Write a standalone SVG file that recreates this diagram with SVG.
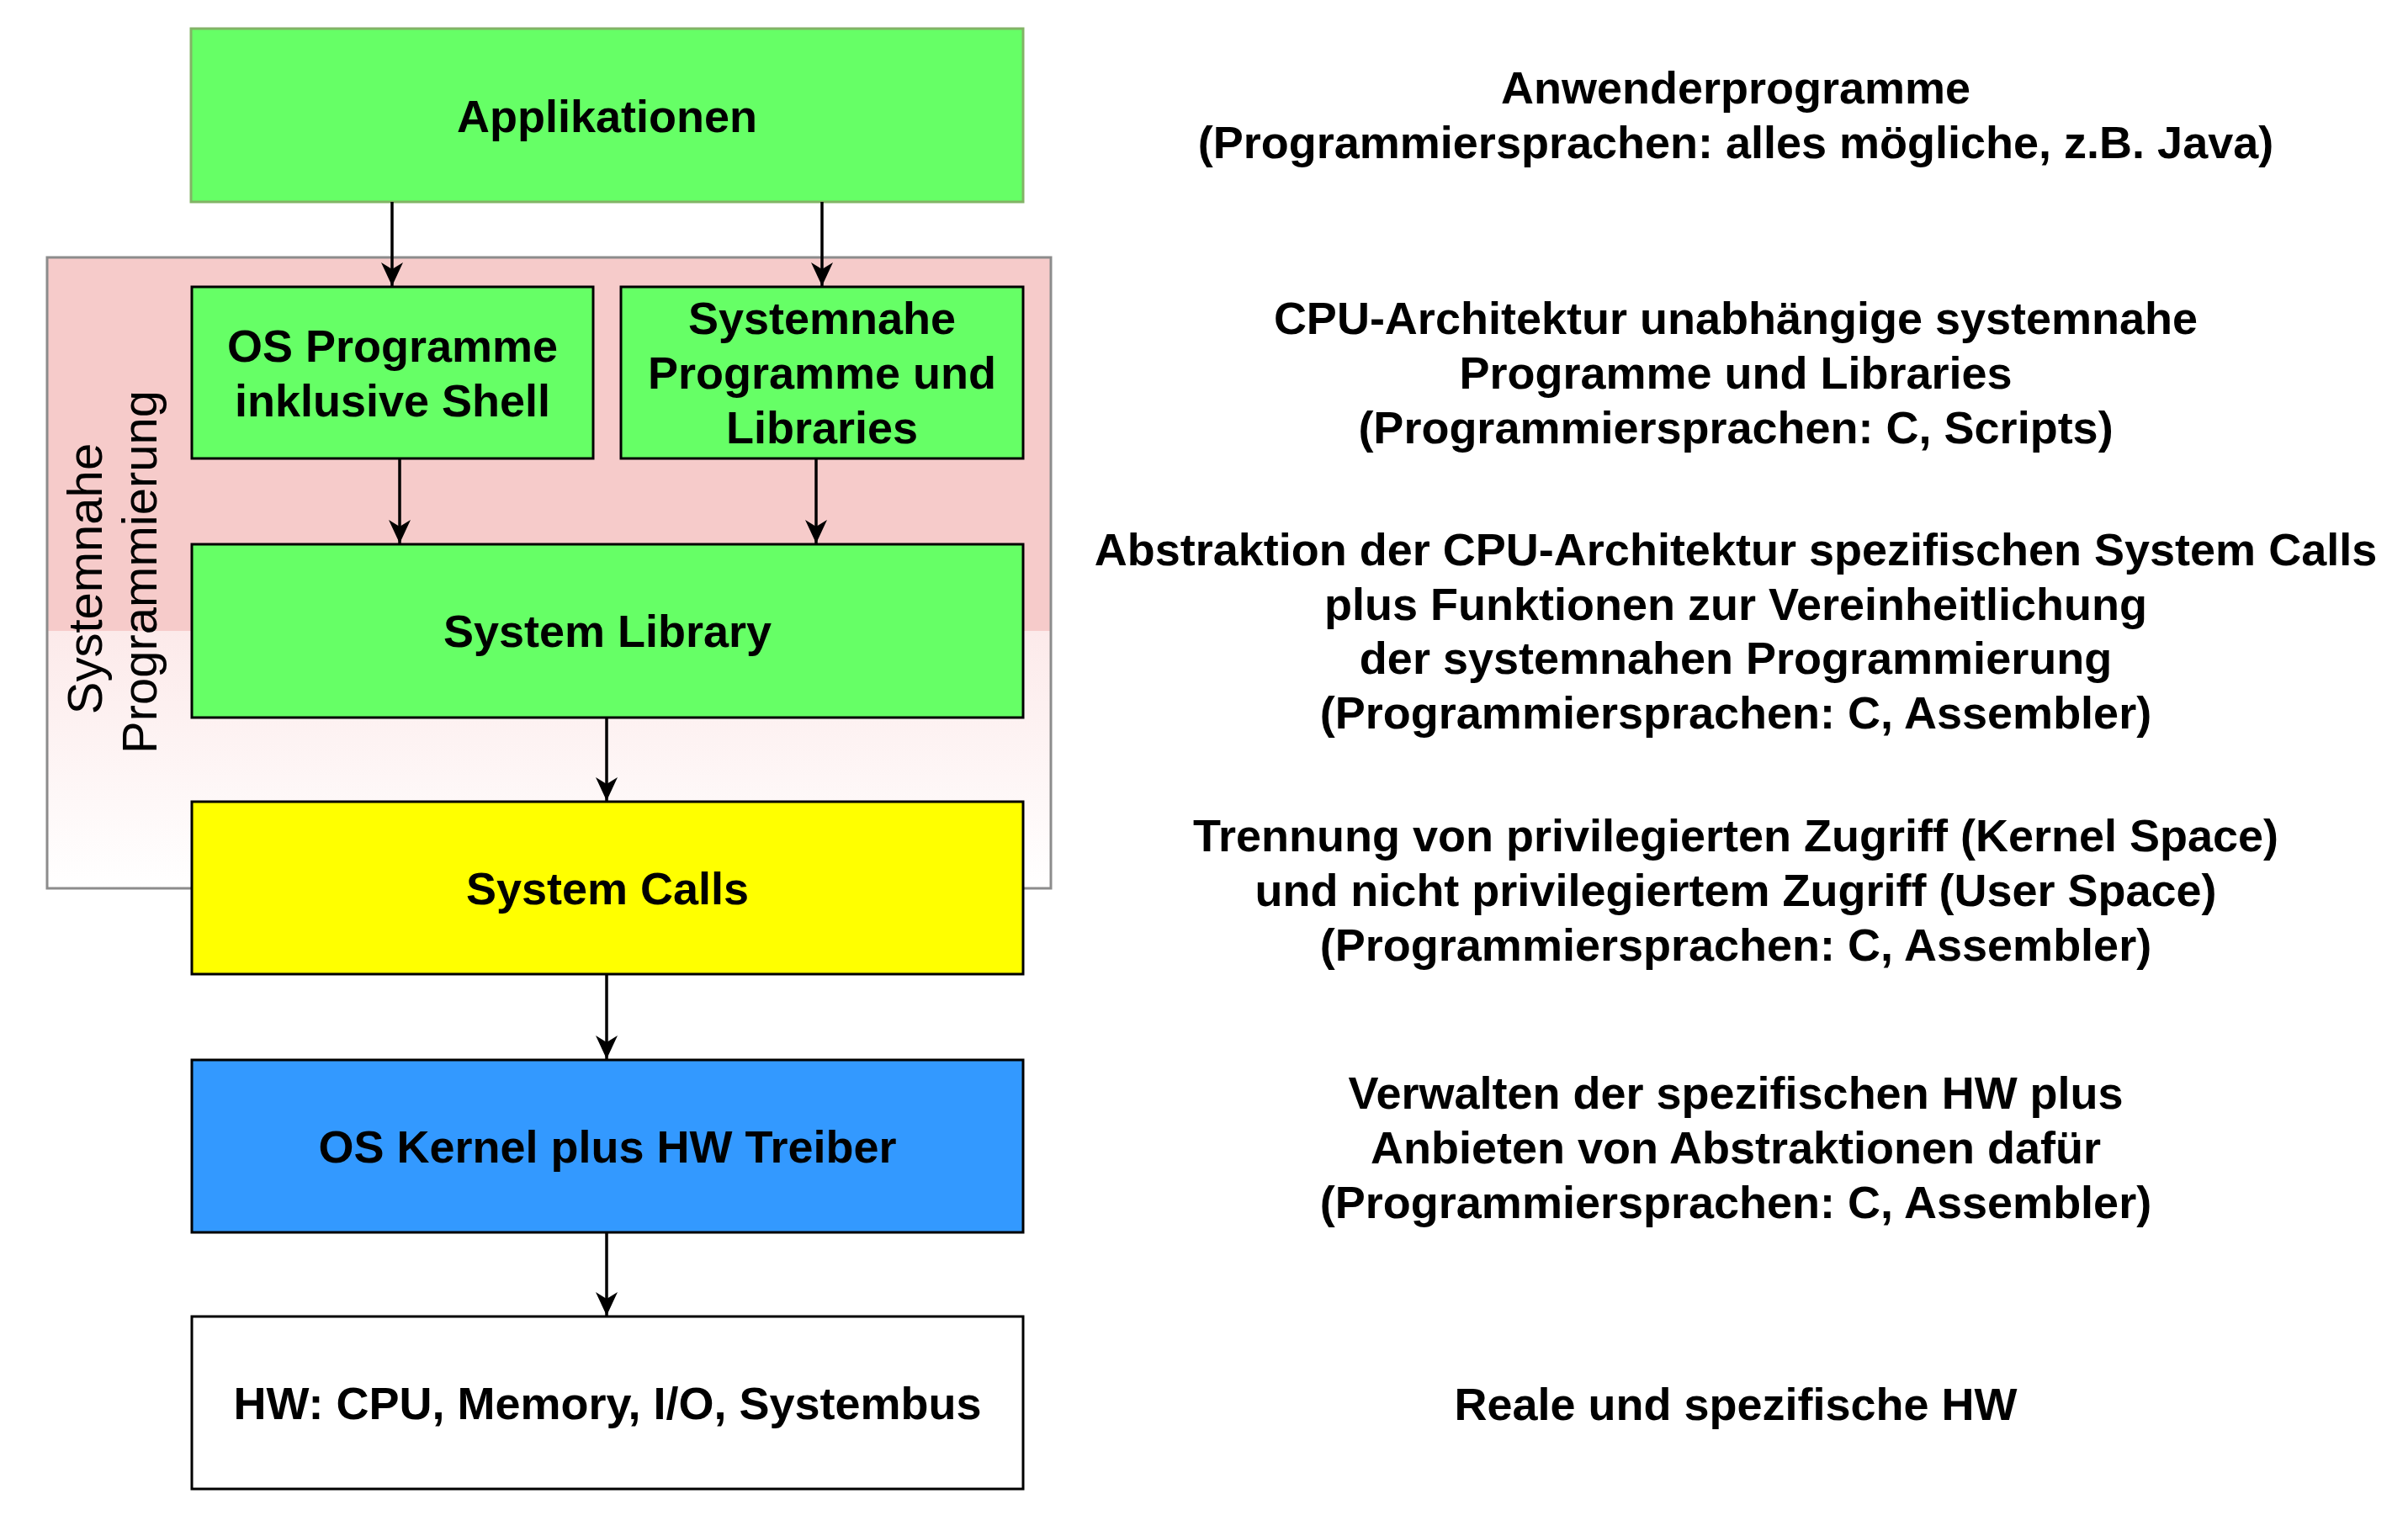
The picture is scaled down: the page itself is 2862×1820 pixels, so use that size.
<svg xmlns="http://www.w3.org/2000/svg" width="2862" height="1820" viewBox="0 0 2862 1820">
  <style>
    .box { stroke: #000000; stroke-width: 3; }
    .green { fill: #66FF66; }
    .lbl { font-family: "Liberation Sans", Arial, Helvetica, sans-serif; font-size: 54px; font-weight: bold; fill: #000000; text-anchor: middle; }
    .side { font-family: "Liberation Sans", Arial, Helvetica, sans-serif; font-size: 58px; font-weight: normal; fill: #000000; text-anchor: middle; }
    .conn { stroke: #000000; stroke-width: 3.5; fill: none; marker-end: url(#arrow); }
  </style>
  <defs>
    <linearGradient id="pinkGrad" x1="0" y1="0" x2="0" y2="1">
      <stop offset="0" stop-color="#F6CBCA"/>
      <stop offset="0.592" stop-color="#F6CBCA"/>
      <stop offset="0.592" stop-color="#FCEAEA"/>
      <stop offset="1" stop-color="#FFFFFF"/>
    </linearGradient>
    <marker id="arrow" viewBox="-30 -15 32 30" markerWidth="32" markerHeight="30" refX="0" refY="0" orient="auto" markerUnits="userSpaceOnUse">
      <path d="M0,0 L-28,-13 L-20,0 L-28,13 Z" fill="#000000"/>
    </marker>
  </defs>
  <rect width="2862" height="1820" fill="#FFFFFF"/>

  <g id="container-systemnahe-programmierung">
    <rect x="56" y="306" width="1193" height="750" fill="url(#pinkGrad)" stroke="#8C8C8C" stroke-width="3"/>
    <text class="side" transform="translate(0,680) rotate(-90)">
      <tspan x="0" y="121">Systemnahe</tspan>
      <tspan x="0" y="186">Programmierung</tspan>
    </text>
  </g>

  <g id="node-applikationen">
    <rect x="227" y="34" width="989" height="206" class="green" stroke="#82B366" stroke-width="3"/>
    <text class="lbl" x="721.5" y="157">Applikationen</text>
  </g>

  <g id="node-os-programme">
    <rect x="228" y="341" width="477" height="204" class="box green"/>
    <text class="lbl"><tspan x="466.5" y="430">OS Programme</tspan><tspan x="466.5" y="495">inklusive Shell</tspan></text>
  </g>

  <g id="node-systemnahe-programme">
    <rect x="738" y="341" width="478" height="204" class="box green"/>
    <text class="lbl"><tspan x="977" y="397">Systemnahe</tspan><tspan x="977" y="462">Programme und</tspan><tspan x="977" y="527">Libraries</tspan></text>
  </g>

  <g id="node-system-library">
    <rect x="228" y="647" width="988" height="206" class="box green"/>
    <text class="lbl" x="722" y="769">System Library</text>
  </g>

  <g id="node-system-calls">
    <rect x="228" y="953" width="988" height="205" class="box" fill="#FFFF00"/>
    <text class="lbl" x="722" y="1075">System Calls</text>
  </g>

  <g id="node-os-kernel">
    <rect x="228" y="1260" width="988" height="205" class="box" fill="#3399FF"/>
    <text class="lbl" x="722" y="1382">OS Kernel plus HW Treiber</text>
  </g>

  <g id="node-hw">
    <rect x="228" y="1565" width="988" height="205" class="box" fill="#FFFFFF"/>
    <text class="lbl" x="722" y="1687">HW: CPU, Memory, I/O, Systembus</text>
  </g>

  <g id="connectors">
    <line class="conn" x1="466" y1="240" x2="466" y2="340"/>
    <line class="conn" x1="977" y1="240" x2="977" y2="340"/>
    <line class="conn" x1="475" y1="545" x2="475" y2="646"/>
    <line class="conn" x1="970" y1="545" x2="970" y2="646"/>
    <line class="conn" x1="721" y1="853" x2="721" y2="952"/>
    <line class="conn" x1="721" y1="1158" x2="721" y2="1259"/>
    <line class="conn" x1="721" y1="1465" x2="721" y2="1564"/>
  </g>

  <g id="desc-applikationen">
    <text class="lbl"><tspan x="2063" y="123">Anwenderprogramme</tspan><tspan x="2063" y="188">(Programmiersprachen: alles mögliche, z.B. Java)</tspan></text>
  </g>
  <g id="desc-systemnahe">
    <text class="lbl"><tspan x="2063" y="397">CPU-Architektur unabhängige systemnahe</tspan><tspan x="2063" y="462">Programme und Libraries</tspan><tspan x="2063" y="527">(Programmiersprachen: C, Scripts)</tspan></text>
  </g>
  <g id="desc-system-library">
    <text class="lbl"><tspan x="2063" y="672">Abstraktion der CPU-Architektur spezifischen System Calls</tspan><tspan x="2063" y="737">plus Funktionen zur Vereinheitlichung</tspan><tspan x="2063" y="801">der systemnahen Programmierung</tspan><tspan x="2063" y="866">(Programmiersprachen: C, Assembler)</tspan></text>
  </g>
  <g id="desc-system-calls">
    <text class="lbl"><tspan x="2063" y="1012">Trennung von privilegierten Zugriff (Kernel Space)</tspan><tspan x="2063" y="1077">und nicht privilegiertem Zugriff (User Space)</tspan><tspan x="2063" y="1142">(Programmiersprachen: C, Assembler)</tspan></text>
  </g>
  <g id="desc-os-kernel">
    <text class="lbl"><tspan x="2063" y="1318">Verwalten der spezifischen HW plus</tspan><tspan x="2063" y="1383">Anbieten von Abstraktionen dafür</tspan><tspan x="2063" y="1448">(Programmiersprachen: C, Assembler)</tspan></text>
  </g>
  <g id="desc-hw">
    <text class="lbl" x="2063" y="1688">Reale und spezifische HW</text>
  </g>
</svg>
